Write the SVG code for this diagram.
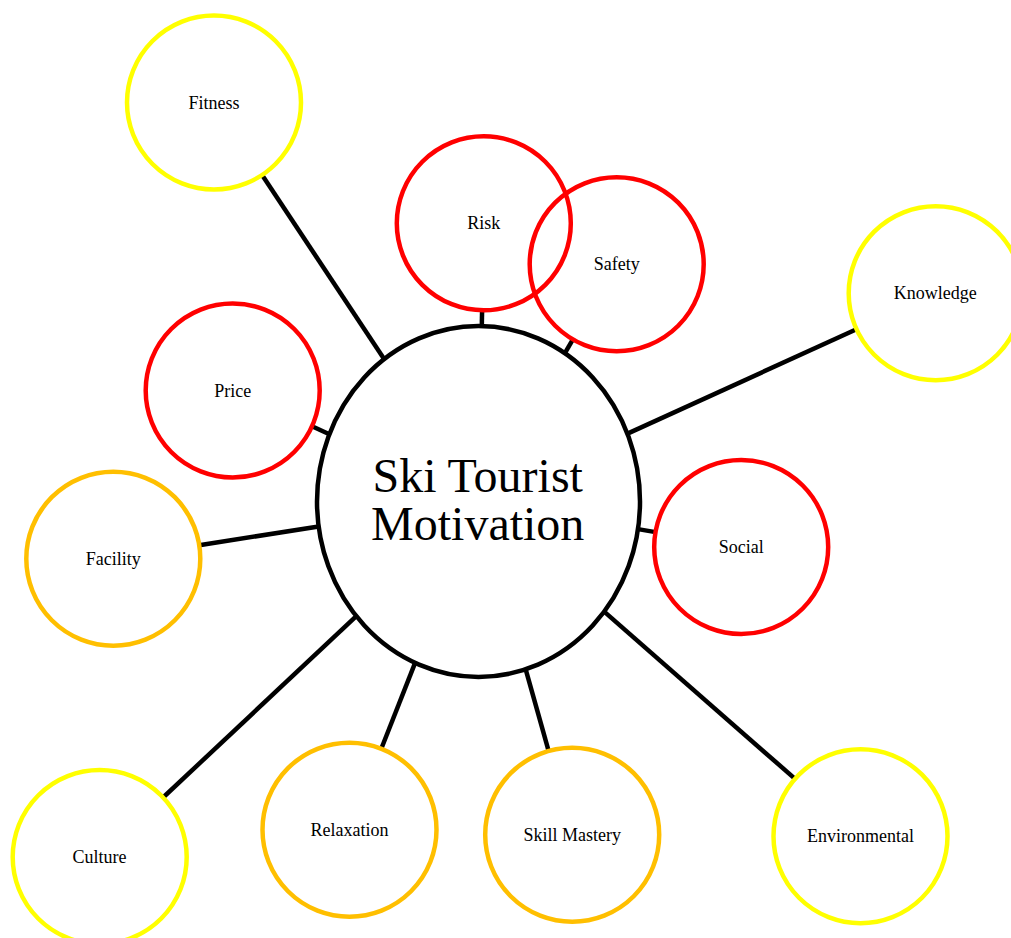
<svg xmlns="http://www.w3.org/2000/svg" width="1011" height="938" viewBox="0 0 1011 938">
<style>
.node{fill:none;stroke-width:4.5}
.red{stroke:#ff0000}
.yellow{stroke:#ffff00}
.orange{stroke:#ffbf00}
.lbl{font-family:"Liberation Serif","Times New Roman",serif;font-size:18px;fill:#000;text-anchor:middle}
.title{font-family:"Liberation Serif","Times New Roman",serif;font-size:48px;fill:#000;text-anchor:middle}
.conn line{stroke:#000;stroke-width:4.5}
</style>
<rect width="1011" height="938" fill="#fff"/>
<g id="connectors" class="conn">
<line x1="384.1" y1="359.1" x2="262.1" y2="175"/>
<line x1="481.8" y1="326" x2="482.1" y2="310.3"/>
<line x1="564.9" y1="353.2" x2="572.9" y2="339.4"/>
<line x1="627.5" y1="433.6" x2="856.5" y2="329.3"/>
<line x1="329.4" y1="434.2" x2="312" y2="426.3"/>
<line x1="638" y1="529.1" x2="655.5" y2="532.1"/>
<line x1="318.7" y1="526.5" x2="199.2" y2="545.2"/>
<line x1="356.3" y1="616.2" x2="163.1" y2="797.5"/>
<line x1="415.1" y1="662.9" x2="381.3" y2="748.7"/>
<line x1="525.7" y1="669.3" x2="548.6" y2="750.9"/>
<line x1="604.2" y1="611.6" x2="795.1" y2="778.9"/>
</g>
<g id="center">
<ellipse cx="478.5" cy="501.5" rx="161.5" ry="175.5" fill="none" stroke="#000" stroke-width="4.5"/>
<text class="title" x="477.7" y="492">Ski Tourist</text>
<text class="title" x="477.7" y="540">Motivation</text>
</g>
<g id="fitness"><circle class="node yellow" cx="214" cy="102.5" r="87"/><text class="lbl" x="214" y="108.5">Fitness</text></g>
<g id="risk"><circle class="node red" cx="483.8" cy="223.3" r="87"/><text class="lbl" x="483.8" y="229.3">Risk</text></g>
<g id="safety"><circle class="node red" cx="616.7" cy="264.2" r="87"/><text class="lbl" x="616.7" y="270.2">Safety</text></g>
<g id="knowledge"><circle class="node yellow" cx="935.7" cy="293.2" r="87"/><text class="lbl" x="935.2" y="299.2">Knowledge</text></g>
<g id="price"><circle class="node red" cx="232.7" cy="390.5" r="87"/><text class="lbl" x="232.7" y="396.5">Price</text></g>
<g id="social"><circle class="node red" cx="741.2" cy="547" r="87"/><text class="lbl" x="741.2" y="553">Social</text></g>
<g id="facility"><circle class="node orange" cx="113.3" cy="558.7" r="87"/><text class="lbl" x="113.3" y="564.7">Facility</text></g>
<g id="culture"><circle class="node yellow" cx="99.7" cy="857" r="87"/><text class="lbl" x="99.5" y="863">Culture</text></g>
<g id="relaxation"><circle class="node orange" cx="349.5" cy="829.7" r="87"/><text class="lbl" x="349.5" y="835.7">Relaxation</text></g>
<g id="skill-mastery"><circle class="node orange" cx="572.2" cy="834.7" r="87"/><text class="lbl" x="572.2" y="840.7">Skill Mastery</text></g>
<g id="environmental"><circle class="node yellow" cx="860.5" cy="836.2" r="87"/><text class="lbl" x="860.5" y="842.2">Environmental</text></g>
</svg>
